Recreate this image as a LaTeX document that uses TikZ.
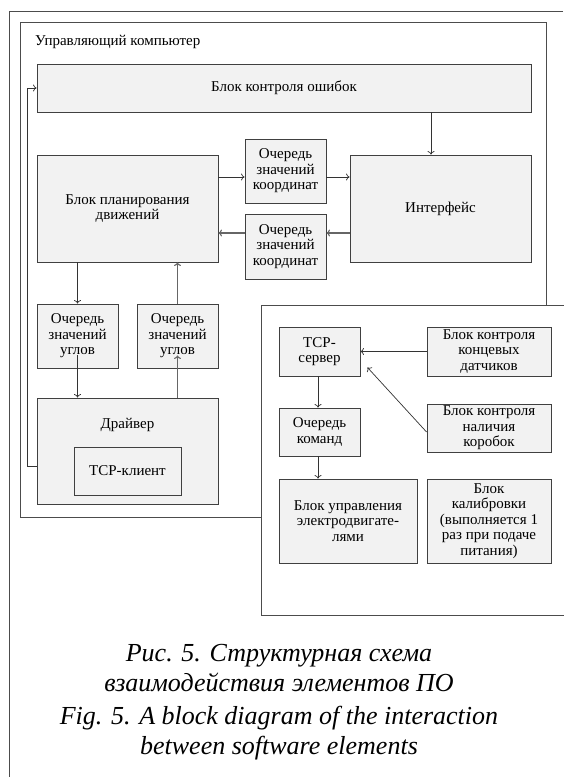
\documentclass[tikz,border=0pt]{standalone}
\usepackage{fontspec}
\setmainfont{Liberation Serif}
\usepackage{tikz}
\usetikzlibrary{positioning}
\usetikzlibrary{arrows.meta}
\usetikzlibrary{calc}
\tikzset{
    blok/.style = {rectangle, draw=black!75, line width=0.9pt, fill=black!5, align=center, inner sep=1pt, font=\fontsize{15}{15.5}\selectfont},
    txt/.style = {inner sep=0pt, font=\fontsize{15}{15.5}\selectfont},
    frame/.style = {draw=black!70, line width=0.8pt},
    edgen/.style = {-{To[length=3.5pt,width=7pt]}, line width=0.7pt, black!80},
    edgeg/.style = {-{To[length=3.5pt,width=7pt]}, line width=1.1pt, black!60}, % grey ones
    capt/.style = {align=center, inner sep=0pt, font=\fontsize{26}{30}\selectfont\itshape}
}

\begin{document}
\begin{tikzpicture}[x=1pt,y=-1pt]
\useasboundingbox (0,0) rectangle (563,777);
% frames
\draw[frame] (563,11) -- (9,11) -- (9,777);
\draw[frame] (20,22) rectangle (546,517);
\draw[frame, fill=white] (566,305) -- (261,305) -- (261,615) -- (566,615);
\node[txt, anchor=base west] at (35,45) (pctitle) {Управляющий компьютер};
%
\node[blok, minimum width=494pt, minimum height=48pt] at (284,88) (err) {Блок контроля ошибок};
\node[blok, minimum width=181pt, minimum height=107pt] at (127.5,208.5) (plan) {Блок планирования\\движений};
\node[blok, minimum width=81pt, minimum height=64pt] at (285.5,171) (qc1) {Очередь\\значений\\координат};
\node[blok, minimum width=81pt, minimum height=65pt] at (285.5,246.5) (qc2) {Очередь\\значений\\координат};
\node[blok, minimum width=181pt, minimum height=107pt] at (440.5,208.5) (intf) {Интерфейс};
\node[blok, minimum width=81pt, minimum height=64pt] at (77.5,336) (qa1) {Очередь\\значений\\углов};
\node[blok, minimum width=81pt, minimum height=64pt] at (177.5,336) (qa2) {Очередь\\значений\\углов};
\node[blok, minimum width=181pt, minimum height=106pt] at (127.5,451) (drv) {};
\node[txt] at ($(drv.north)+(0,27)$) (drvt) {Драйвер};
\node[blok, minimum width=107pt, minimum height=48pt] at (127.5,471) (tcpc) {TCP-клиент};
%
\node[blok, minimum width=81pt, minimum height=49pt] at (319.5,351.5) (srv) {TCP-\\сервер};
\node[blok, minimum width=81pt, minimum height=48pt] at (319.5,432) (qcmd) {Очередь\\команд};
\node[blok, minimum width=138pt, minimum height=84pt] at (348,521) (mot) {Блок управления\\электродвигате-\\лями};
\node[blok, minimum width=124pt, minimum height=49pt] at (489,351.5) (lim) {Блок контроля\\концевых\\датчиков};
\node[blok, minimum width=124pt, minimum height=48pt] at (489,428) (boxp) {Блок контроля\\наличия\\коробок};
\node[blok, minimum width=124pt, minimum height=84pt] at (489,521) (cal) {Блок\\калибровки\\(выполняется 1\\раз при подаче\\питания)};
%
\coordinate (c1) at ($(qc1.west)+(0,6)$);
\coordinate (c2) at ($(qc2.west)+(0,-13.5)$);
\draw[edgen] ([xshift=-9.5pt]intf.north |- err.south) -- ([xshift=-9.5pt]intf.north);
\draw[edgen] (plan.east |- c1) -- (c1);
\draw[edgen] (qc1.east |- c1) -- (intf.west |- c1);
\draw[edgeg] (intf.west |- c2) -- (qc2.east |- c2);
\draw[edgeg] (c2) -- (plan.east |- c2);
\draw[edgen] (plan.south -| qa1.north) -- (qa1.north);
\draw[edgen] ([yshift=13pt]qa1.south) -- (qa1.south |- drv.north);
\draw[edgeg] (drv.north -| qa2.south) -- ([yshift=13pt]qa2.south);
\draw[edgeg] (qa2.north) -- (plan.south -| qa2.north);
\draw[edgen] ([yshift=-15pt]drv.west) -- ++(-9,0) |- (err.west);
%
\draw[edgen] (lim.west) -- (srv.east);
\draw[edgen] ([yshift=-4pt]boxp.west) -- ($(srv.south east)+(7,-9)$);
\draw[edgen] ([xshift=-1.5pt]srv.south) -- ([xshift=-1.5pt]qcmd.north);
\draw[edgen] ([xshift=-1.5pt]qcmd.south) -- ([xshift=-1.5pt]qcmd.south |- mot.north);
%
\node[capt] at (279,668) (capru) {Рис. 5. Структурная схема\\взаимодействия элементов ПО};
\node[capt] at (279,733) (capen) {Fig. 5. A block diagram of the interaction\\between software elements};
\end{tikzpicture}
\end{document}
